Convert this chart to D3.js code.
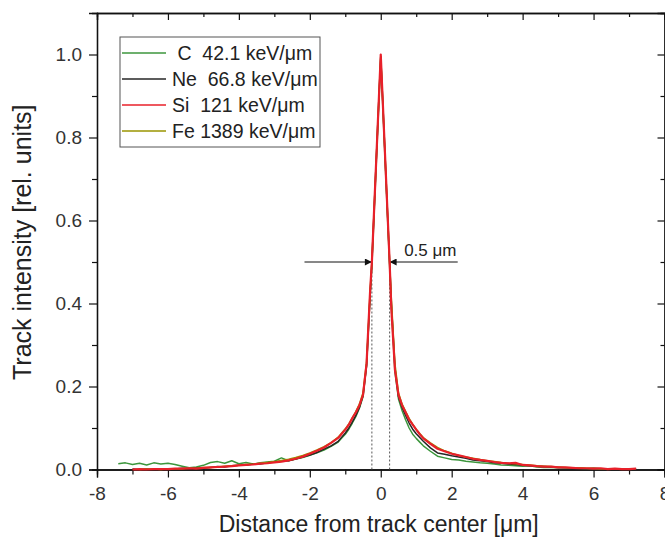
<!DOCTYPE html>
<html>
<head>
<meta charset="utf-8">
<script src="https://cdn.jsdelivr.net/npm/d3@7"></script>
<style>
  body { margin: 0; background: #fff; }
  svg { display: block; font-family: "Liberation Sans", Arial, sans-serif; }
</style>
</head>
<body>
<div id="track-profile"></div>
<script>
// distance from the track center [um]
const distance = [
  -7.4,-7.2,-7.0,-6.8,-6.6,-6.4,-6.2,-6.0,-5.8,-5.6,-5.4,-5.2,-5.0,-4.8,-4.6,-4.4,
  -4.2,-4.0,-3.8,-3.6,-3.4,-3.2,-3.0,-2.8,-2.6,-2.4,-2.2,-2.0,-1.8,-1.6,-1.4,-1.2,
  -1.1,-1.0,-0.9,-0.8,-0.7,-0.6,-0.5,
  -0.4,-0.3,-0.25,-0.2,-0.15,-0.1,-0.05,0,0.05,0.1,0.15,0.2,0.25,0.3,0.4,
  0.5,0.6,0.7,0.8,0.9,1.0,1.1,
  1.2,1.4,1.6,1.8,2.0,2.2,2.4,2.6,2.8,3.0,3.2,3.4,3.6,3.8,4.0,4.2,
  4.4,4.6,4.8,5.0,5.2,5.4,5.6,5.8,6.0,6.2,6.4,6.6,6.8,7.0,7.2,7.4
];

const intensityC = [
  0.014,0.016,0.012,0.015,0.011,0.016,0.013,0.015,0.012,0.008,0.004,0.006,0.010,0.017,0.019,0.015,
  0.021,0.014,0.017,0.013,0.016,0.018,0.020,0.028,0.021,0.025,0.029,0.034,0.040,0.047,0.056,0.066,
  0.076,0.085,0.097,0.112,0.128,0.148,0.175,
  0.25,0.42,0.49,0.59,0.69,0.79,0.89,0.99,0.89,0.79,0.69,0.59,0.49,0.39,0.235,
  0.170,0.142,0.120,0.100,0.085,0.075,0.066,
  0.057,0.044,0.032,0.028,0.024,0.023,0.020,0.018,0.016,0.015,0.013,0.011,0.010,0.009,0.008,0.009,
  0.006,0.005,0.005,0.004,0.004,0.003,0.003,0.002,0.002,0.001,0.002,0.001,0.001,0.002,0.001,null
];

const intensityNe = [
  null,null,0.001,0.000,0.001,0.000,0.002,0.001,0.001,0.003,0.002,0.004,0.003,0.005,0.007,0.006,
  0.009,0.010,0.010,0.013,0.013,0.016,0.018,0.020,0.021,0.025,0.030,0.035,0.041,0.049,0.057,0.068,
  0.078,0.088,0.100,0.115,0.131,0.150,0.178,
  0.25,0.42,0.50,0.60,0.70,0.80,0.90,0.995,0.90,0.80,0.70,0.60,0.50,0.40,0.245,
  0.175,0.150,0.130,0.112,0.097,0.086,0.077,
  0.068,0.052,0.040,0.037,0.033,0.030,0.027,0.023,0.021,0.019,0.016,0.015,0.013,0.012,0.010,0.009,
  0.008,0.007,0.006,0.005,0.004,0.004,0.003,0.002,0.003,0.002,0.001,0.002,0.001,0.000,0.001,null
];

const intensitySi = [
  null,null,0.000,0.001,0.000,0.001,0.001,0.001,0.002,0.002,0.003,0.002,0.004,0.005,0.006,0.007,
  0.008,0.010,0.011,0.012,0.014,0.015,0.017,0.019,0.022,0.026,0.031,0.038,0.045,0.053,0.064,0.076,
  0.086,0.096,0.108,0.124,0.138,0.155,0.180,
  0.255,0.43,0.50,0.60,0.70,0.80,0.90,1.00,0.90,0.80,0.70,0.60,0.50,0.385,0.24,
  0.180,0.155,0.138,0.120,0.108,0.096,0.085,
  0.075,0.062,0.050,0.044,0.038,0.034,0.030,0.026,0.023,0.021,0.018,0.016,0.015,0.016,0.011,0.010,
  0.008,0.007,0.007,0.005,0.005,0.004,0.003,0.003,0.002,0.003,0.001,0.002,0.001,0.001,0.002,null
];

const intensityFe = [
  null,null,null,0.000,0.001,0.001,0.000,0.002,0.002,0.002,0.003,0.003,0.005,0.005,0.006,0.008,
  0.009,0.010,0.012,0.013,0.015,0.017,0.019,0.022,0.025,0.029,0.034,0.040,0.047,0.055,0.065,0.078,
  0.088,0.098,0.110,0.125,0.140,0.158,0.185,
  0.26,0.43,0.50,0.60,0.70,0.80,0.90,0.995,0.90,0.80,0.70,0.60,0.50,0.41,0.255,
  0.185,0.158,0.140,0.123,0.109,0.097,0.087,
  0.077,0.064,0.053,0.045,0.039,0.034,0.030,0.027,0.024,0.021,0.019,0.017,0.015,0.014,0.012,0.011,
  0.009,0.008,0.007,0.006,0.005,0.004,0.004,0.003,0.003,0.002,0.002,0.001,0.001,0.001,null,null
];

const seriesNames = ["C", "Ne", "Si", "Fe"];
const legendLabels = [" C  42.1 keV/\u03bcm", "Ne  66.8 keV/\u03bcm", "Si  121 keV/\u03bcm", "Fe 1389 keV/\u03bcm"];
const xTicks = [-8, -6, -4, -2, 0, 2, 4, 6, 8];
const xMinorTicks = [-7, -5, -3, -1, 1, 3, 5, 7];
const yTicks = [0, 0.2, 0.4, 0.6, 0.8, 1.0];
const yMinorTicks = [0.1, 0.3, 0.5, 0.7, 0.9];
const fwhmLabel = "0.5 \u03bcm";

const values = { C: intensityC, Ne: intensityNe, Si: intensitySi, Fe: intensityFe };
const colors = { C: "#3c963c", Ne: "#262626", Si: "#e8202a", Fe: "#9a9400" };
const widths = { C: 1.5, Ne: 1.5, Si: 2.2, Fe: 1.5 };

const W = 665, H = 540;
const plot = { left: 97, right: 664.5, top: 13, bottom: 469.5 };

const svg = d3.select("#track-profile")
  .append("svg")
  .attr("width", W)
  .attr("height", H);

const x = d3.scaleLinear().domain([-8, 8]).range([plot.left, plot.right]);
const y = d3.scaleLinear().domain([0, 1.1]).range([plot.bottom, plot.top]);

// axes: major + minor, outer ticks on left/bottom, inner ticks on top/right
function styleAxis(g) {
  g.select(".domain").attr("stroke", "#111").attr("stroke-width", 1.3);
  g.selectAll(".tick line").attr("stroke", "#111").attr("stroke-width", 1.2);
  g.selectAll(".tick text").attr("fill", "#333").style("font-size", "19px");
}

svg.append("g")
  .attr("transform", `translate(0,${plot.bottom})`)
  .call(d3.axisBottom(x).tickValues(xTicks).tickSize(8).tickPadding(9).tickFormat(d => String(d)))
  .call(styleAxis);
svg.append("g")
  .attr("transform", `translate(0,${plot.bottom})`)
  .call(d3.axisBottom(x).tickValues(xMinorTicks).tickSize(5).tickFormat(""))
  .call(styleAxis);
svg.append("g")
  .attr("transform", `translate(0,${plot.top})`)
  .call(d3.axisTop(x).tickValues(xTicks).tickSize(-7).tickFormat(""))
  .call(styleAxis);
svg.append("g")
  .attr("transform", `translate(0,${plot.top})`)
  .call(d3.axisTop(x).tickValues(xMinorTicks).tickSize(-4).tickFormat(""))
  .call(styleAxis);

svg.append("g")
  .attr("transform", `translate(${plot.left},0)`)
  .call(d3.axisLeft(y).tickValues(yTicks).tickSize(8).tickPadding(7).tickFormat(d3.format(".1f")))
  .call(styleAxis);
svg.append("g")
  .attr("transform", `translate(${plot.left},0)`)
  .call(d3.axisLeft(y).tickValues(yMinorTicks).tickSize(5).tickFormat(""))
  .call(styleAxis);
svg.append("g")
  .attr("transform", `translate(${plot.right},0)`)
  .call(d3.axisRight(y).tickValues(yTicks).tickSize(-7).tickFormat(""))
  .call(styleAxis);
svg.append("g")
  .attr("transform", `translate(${plot.right},0)`)
  .call(d3.axisRight(y).tickValues(yMinorTicks).tickSize(-4).tickFormat(""))
  .call(styleAxis);

// axis titles
svg.append("text")
  .attr("x", (plot.left + plot.right) / 2 - 2)
  .attr("y", 532)
  .attr("text-anchor", "middle")
  .attr("fill", "#222")
  .style("font-size", "23px")
  .text("Distance from track center [\u03bcm]");

svg.append("text")
  .attr("transform", `translate(31,${(plot.top + plot.bottom) / 2 + 1}) rotate(-90)`)
  .attr("text-anchor", "middle")
  .attr("fill", "#222")
  .style("font-size", "25px")
  .text("Track intensity [rel. units]");

// FWHM guides
svg.append("defs").selectAll("marker")
  .data(["arrow"])
  .join("marker")
  .attr("id", d => d)
  .attr("viewBox", "0 0 10 10")
  .attr("refX", 10).attr("refY", 5)
  .attr("markerWidth", 11).attr("markerHeight", 7)
  .attr("markerUnits", "userSpaceOnUse")
  .attr("orient", "auto")
  .append("path")
  .attr("d", "M0,0 L10,5 L0,10 z")
  .attr("fill", "#111");

const guides = svg.append("g");
[-0.25, 0.25].forEach(v => {
  guides.append("line")
    .attr("x1", x(v)).attr("x2", x(v))
    .attr("y1", y(0)).attr("y2", y(0.5))
    .attr("stroke", "#555")
    .attr("stroke-width", 1)
    .attr("stroke-dasharray", "2,2");
});

// draw the series
const line = d3.line()
  .defined(d => d[1] !== null)
  .x(d => x(d[0]))
  .y(d => y(d[1]));

const drawOrder = ["C", "Ne", "Fe", "Si"];
svg.append("g")
  .selectAll("path")
  .data(drawOrder)
  .join("path")
  .attr("fill", "none")
  .attr("stroke", d => colors[d])
  .attr("stroke-width", d => widths[d])
  .attr("stroke-linejoin", "round")
  .attr("d", d => line(distance.map((xv, i) => [xv, values[d][i]])));

guides.append("line")
  .attr("x1", x(-2.15)).attr("x2", x(-0.25))
  .attr("y1", y(0.5)).attr("y2", y(0.5))
  .attr("stroke", "#111").attr("stroke-width", 1)
  .attr("marker-end", "url(#arrow)");
guides.append("line")
  .attr("x1", x(2.17)).attr("x2", x(0.25))
  .attr("y1", y(0.5)).attr("y2", y(0.5))
  .attr("stroke", "#111").attr("stroke-width", 1)
  .attr("marker-end", "url(#arrow)");
guides.append("text")
  .attr("x", x(0.66))
  .attr("y", y(0.5) - 6)
  .attr("fill", "#222")
  .style("font-size", "17px")
  .text(fwhmLabel);

// legend
const legend = svg.append("g").attr("transform", "translate(120,37)");
legend.append("rect")
  .attr("width", 200).attr("height", 110)
  .attr("fill", "#fff")
  .attr("stroke", "#555").attr("stroke-width", 1);

const rows = legend.selectAll(".legend-row")
  .data(seriesNames)
  .join("g")
  .attr("class", "legend-row")
  .attr("transform", (d, i) => `translate(0,${16 + i * 26})`);
rows.append("line")
  .attr("x1", 2).attr("x2", 46)
  .attr("stroke", d => colors[d])
  .attr("stroke-width", 1.5);
rows.append("text")
  .attr("x", 52)
  .attr("y", 0)
  .attr("dy", "0.35em")
  .attr("xml:space", "preserve")
  .attr("fill", "#222")
  .style("font-size", "19.5px")
  .style("white-space", "pre")
  .text((d, i) => legendLabels[i]);
</script>
</body>
</html>
